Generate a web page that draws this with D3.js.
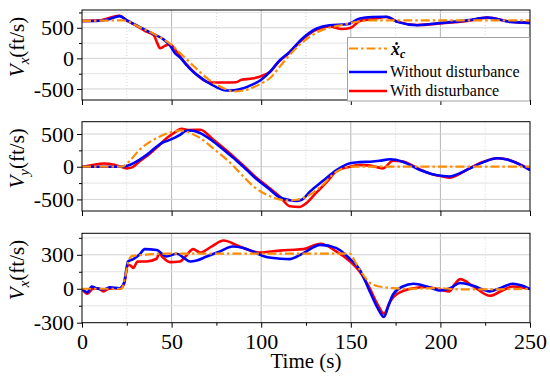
<!DOCTYPE html>
<html><head><meta charset="utf-8">
<script src="https://cdn.jsdelivr.net/npm/d3@7"></script>
</head><body style="margin:0;background:#fff"><svg id="c" width="550" height="383" style="display:block"></svg>
<script>
// ---------- DATA ----------
const xTicks = [0, 50, 100, 150, 200, 250];
const xMinor = [25, 75, 125, 175, 225];

// Panel 1: Vx
const p1CmdT = [0,10,20,23,27,30,35,40,45,50,55,60,65,70,75,80,85,90,95,100,105,110,116,123,131,138,145,150,156,162,170,180,250];
const p1CmdV = [610,615,620,620,590,540,470,400,320,220,80,-60,-200,-330,-430,-500,-540,-525,-480,-410,-320,-150,60,260,420,500,545,580,610,620,620,620,620];
const p1NoT = [0,5,10,15,21,25,30,35,40,45,49,52,55,58,62,66,70,75,80,85,90,95,100,105,110,116,123,131,138,148,155,162,170,176,187,201,216,226,239,250];
const p1NoV = [610,610,615,640,690,620,545,470,395,320,216,80,10,-100,-218,-310,-390,-470,-525,-520,-490,-430,-350,-218,-40,108,325,488,542,558,651,675,680,596,542,580,624,667,596,580];
const p1DiT = [0,10,15,21,25,30,35,40,42,43.5,46,49,53,56,60,65,70,75,80,86,89,95,100,105,110,116,123,131,138,145,150,155,162,170,176,187,201,216,226,239,250];
const p1DiV = [610,620,660,695,620,540,450,380,250,165,200,230,100,-20,-150,-290,-385,-395,-395,-390,-350,-330,-290,-220,-50,100,310,470,520,480,500,612,640,675,600,545,575,615,665,600,580];

// Panel 2: Vy
const p2CmdT = [0,22,27,32,38,43.5,50,55,60,66,75,84,90,95.5,101,106.7,110,115,120,127,133,142,149,250];
const p2CmdV = [0,0,100,257,380,462,530,554,520,437,240,26,-150,-297,-400,-471,-500,-515,-505,-430,-308,-77,0,0];
const p2NoT = [0,22,27,32,37,41.7,45,49,54.7,58.6,62,66,73,81,86,92,97,103,110.5,116,120,123,127,134.5,142,149.6,155,161,166,172,179,188.6,195,201.5,205,210,216.5,224,231.6,237,244,250];
const p2NoV = [0,0,30,103,200,308,370,410,488,554,550,514,390,215,100,-51,-180,-308,-471,-512,-523,-500,-385,-215,-51,52,70,77,90,114,77,-51,-110,-143,-150,-110,-25,70,129,110,40,-51];
const p2DiT = [0,5,12,18,21,25,28,32,37,42,47,52,55.5,60,66,73,81,86,92,97,103,110.5,116,121.6,125,130,137,142,149.6,155,160,168,173.5,179,188.6,195,201.5,205,210,216.5,224,231.6,237,244,250];
const p2DiV = [0,20,50,30,5,-25,-10,80,180,300,430,530,580,560,565,420,240,120,-30,-160,-290,-460,-605,-615,-560,-420,-220,-70,0,25,20,-25,92,80,-40,-110,-150,-169,-120,-20,75,130,115,40,-45];

// Panel 3: Vx
const p3CmdT = [0,22,24,26,28,35,45,100,149.6,152,155,162.5,173.5,180,200,210,230,250];
const p3CmdV = [0,0,100,250,290,300,310,310,310,250,168,35,5,0,5,-5,-5,0];
const p3NoT = [0,3,5.4,8,12,15.6,21,23.4,25.7,28.6,32,35,41.7,47,53,57,60.3,64,69.6,77,84,90,95.5,101,106.7,111,116,123.5,133,142,149.6,155,161,165,168.5,171,173.5,179,185,192.5,200,206,211,218.4,227.7,234,240.5,245,250];
const p3NoV = [0,-32,20,5,-5,12,5,50,241,262,300,350,343,285,309,270,241,250,285,330,373,360,329,290,271,265,262,315,388,359,262,168,-38,-170,-250,-150,-53,20,44,20,-15,10,51,26,-23,10,44,30,-3];
const p3DiT = [0,3,6,9,12,15,18,21,23.4,25.7,27.5,28.6,31,36,41.7,43,45,49,54.7,58,62,66,72,79,88,99,105,110.5,116,123.5,133,142,149.6,155,160,165,168.5,172,176,185,192.5,200,205,208,211,218.4,227.7,234,240.5,250];
const p3DiV = [0,-44,0,5,-23,0,5,0,40,212,200,183,240,241,265,314,280,235,241,290,350,320,370,426,373,320,329,337,343,350,397,329,241,150,20,-140,-220,-110,-44,5,15,-9,-23,40,85,20,-62,-20,20,-3];

const legendLabels = ["Without disturbance", "With disturbance"];

// ---------- LAYOUT ----------
const FONT = '"Liberation Serif", "Times New Roman"';
const svg = d3.select("#c");
const X0 = 82, X1 = 530;
const x = d3.scaleLinear().domain([0, 250]).range([X0, X1]);
const colors = {cmd: "#FF8C00", no: "#0000FF", di: "#FF0000"};

const panels = [
  {top: 10, bottom: 100, domain: [-680, 790], major: [-500, 0, 500], minor: [-250, 250, 750], sub: "x",
   series: [[p1DiT, p1DiV, "di"], [p1NoT, p1NoV, "no"], [p1CmdT, p1CmdV, "cmd"]]},
  {top: 121.7, bottom: 211, domain: [-677, 688], major: [-500, 0, 500], minor: [-250, 250], sub: "y",
   series: [[p2DiT, p2DiV, "di"], [p2NoT, p2NoV, "no"], [p2CmdT, p2CmdV, "cmd"]]},
  {top: 233.3, bottom: 322.7, domain: [-300, 490], major: [-300, 0, 300], minor: [-150, 150, 450], sub: "x",
   series: [[p3DiT, p3DiV, "di"], [p3NoT, p3NoV, "no"], [p3CmdT, p3CmdV, "cmd"]]}
];

function txt(sel, size) {
  return sel.style("font-family", FONT).style("font-size", size + "px").attr("fill", "#000");
}

panels.forEach((p, i) => {
  const y = d3.scaleLinear().domain(p.domain).range([p.bottom, p.top]);
  const g = svg.append("g");
  g.selectAll(".vminor").data(xMinor).join("line")
    .attr("x1", d => x(d)).attr("x2", d => x(d)).attr("y1", p.top).attr("y2", p.bottom)
    .attr("stroke", "#d8d8d8").attr("stroke-width", 1).attr("stroke-dasharray", "1,2");
  g.selectAll(".vmajor").data(xTicks.slice(1, -1)).join("line")
    .attr("x1", d => x(d)).attr("x2", d => x(d)).attr("y1", p.top).attr("y2", p.bottom)
    .attr("stroke", "#b4b4b4").attr("stroke-width", 1);
  g.selectAll(".hminor").data(p.minor.filter(v => y(v) > p.top + 1)).join("line")
    .attr("x1", X0).attr("x2", X1).attr("y1", d => y(d)).attr("y2", d => y(d))
    .attr("stroke", "#e2e2e2").attr("stroke-width", 1);
  g.selectAll(".hmajor").data(p.major.filter(v => y(v) < p.bottom - 1)).join("line")
    .attr("x1", X0).attr("x2", X1).attr("y1", d => y(d)).attr("y2", d => y(d))
    .attr("stroke", "#d2d2d2").attr("stroke-width", 1);

  const cid = "clip" + i;
  svg.append("clipPath").attr("id", cid).append("rect")
    .attr("x", X0).attr("y", p.top).attr("width", X1 - X0).attr("height", p.bottom - p.top);
  const lg = g.append("g").attr("clip-path", `url(#${cid})`);
  const line = d3.line().x(d => x(d[0])).y(d => y(d[1])).curve(d3.curveMonotoneX);
  p.series.forEach(([ts, vs, key]) => {
    const pts = ts.map((t, k) => [t, vs[k]]);
    const path = lg.append("path").datum(pts).attr("d", line)
      .attr("fill", "none").attr("stroke", colors[key])
      .attr("stroke-linejoin", "round");
    if (key === "cmd") path.attr("stroke-width", 2.2).attr("stroke-dasharray", "9,3,2.5,3");
    else path.attr("stroke-width", 2.6);
  });

  g.append("rect").attr("x", X0).attr("y", p.top).attr("width", X1 - X0).attr("height", p.bottom - p.top)
    .attr("fill", "none").attr("stroke", "#000").attr("stroke-width", 1);

  const ya = g.append("g").attr("transform", `translate(${X0},0)`)
    .call(d3.axisLeft(y).tickValues(p.major).tickSize(5).tickPadding(3).tickFormat(d => String(d)));
  ya.attr("font-family", null).attr("font-size", null);
  ya.select(".domain").remove();
  txt(ya.selectAll("text"), 22);
  const ym = g.append("g").attr("transform", `translate(${X0},0)`)
    .call(d3.axisLeft(y).tickValues(p.minor).tickSize(3).tickFormat(""));
  ym.select(".domain").remove();

  const xa = g.append("g").attr("transform", `translate(0,${p.bottom})`)
    .call(d3.axisBottom(x).tickValues(xTicks).tickSize(5).tickPadding(6).tickFormat(i === 2 ? (d => String(d)) : ""));
  xa.attr("font-family", null).attr("font-size", null);
  xa.select(".domain").remove();
  txt(xa.selectAll("text"), 22);
  if (i === 2) {
    const xm = g.append("g").attr("transform", `translate(0,${p.bottom})`)
      .call(d3.axisBottom(x).tickValues(xMinor).tickSize(3).tickFormat(""));
    xm.select(".domain").remove();
  }

  const cy = (p.top + p.bottom) / 2 - 8;
  const t = txt(g.append("text").attr("transform", `translate(24,${cy}) rotate(-90)`)
    .attr("text-anchor", "middle"), 21);
  t.append("tspan").style("font-style", "italic").text("V");
  t.append("tspan").style("font-style", "italic").style("font-size", "15px").attr("dy", 5).text(p.sub);
  t.append("tspan").attr("dy", -5).text("(ft/s)");
});

txt(svg.append("text").attr("x", (X0 + X1) / 2).attr("y", 368).attr("text-anchor", "middle"), 21).text("Time (s)");

const L = svg.append("g");
L.append("rect").attr("x", 347.5).attr("y", 37.5).attr("width", 182).attr("height", 63.5)
  .attr("fill", "#fff").attr("stroke", "#a0a0a0").attr("stroke-width", 1);
const rows = [48.5, 72, 91];
L.append("line").attr("x1", 349).attr("x2", 387).attr("y1", rows[0]).attr("y2", rows[0])
  .attr("stroke", colors.cmd).attr("stroke-width", 2.2).attr("stroke-dasharray", "9,3,2.5,3");
const lt = txt(L.append("text").attr("x", 391).attr("y", 55), 18)
  .style("font-weight", "bold").style("font-style", "italic");
lt.append("tspan").text("\u1E8B");
lt.append("tspan").style("font-size", "12px").attr("dy", 3).text("c");
[["no", rows[1]], ["di", rows[2]]].forEach(([k, yy], j) => {
  L.append("line").attr("x1", 349).attr("x2", 387).attr("y1", yy).attr("y2", yy)
    .attr("stroke", colors[k]).attr("stroke-width", 2.6);
  txt(L.append("text").attr("x", 390).attr("y", yy + 5), 16).text(legendLabels[j]);
});
</script></body></html>
